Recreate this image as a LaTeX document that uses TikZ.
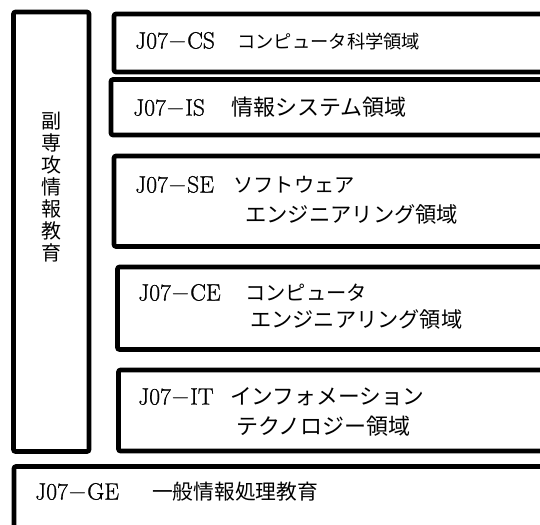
\documentclass[tikz,border=0pt]{standalone}
\usepackage{fontspec}
\newfontfamily\jp{Noto Sans CJK JP}
\newfontfamily\lat[FakeBold=1]{Latin Modern Roman}
\begin{document}
\begin{tikzpicture}[x=1pt,y=-1pt,
  box/.style={draw, line width=4.6pt, rounded corners=2pt, inner sep=0pt, outer sep=0pt, anchor=north west},
  code/.style={anchor=base west, inner sep=0pt, font=\lat\fontsize{23.5}{24}\selectfont},
  jtxt/.style={anchor=base west, inner sep=0pt, font=\jp\fontsize{#1}{21}\selectfont},
  jtxt/.default=21,
]
\useasboundingbox (0,0) rectangle (540,524);
\clip (0,0) rectangle (540,524);
% boxes
\node[box, minimum width=75.5pt, minimum height=439.5pt] (side) at (13.5,12) {};
\node[box, minimum width=460pt, minimum height=58pt] (cs) at (114,14) {};
\node[box, minimum width=460pt, minimum height=55.5pt] (is) at (111,79.5) {};
\node[box, minimum width=460pt, minimum height=90.5pt] (se) at (114,156) {};
\node[box, minimum width=460pt, minimum height=82.5pt] (ce) at (117.5,267) {};
\node[box, minimum width=460pt, minimum height=81pt] (it) at (118.5,370) {};
\node[box, minimum width=560pt, minimum height=90pt] (ge) at (14,466.5) {};
% side label
\node[inner sep=0pt, align=center, font=\jp\fontsize{20}{22}\selectfont] (sidetxt) at (side.center |- 0,187) {副\\専\\攻\\情\\報\\教\\育};
% CS
\node[code] (csc) at (135,48.5) {J07$-$CS};
\node[jtxt=18.3] (cst) at (237,48.5) {コンピュータ科学領域};
% IS
\node[code] (isc) at (133,115.5) {J07$-$IS};
\node[jtxt=22] (ist) at (231,115.5) {情報システム領域};
% SE
\node[code] (sec) at (135,192.5) {J07$-$SE};
\node[jtxt=20.3] (set1) at (233,192.5) {ソフトウェア};
\node[jtxt=21.3] (set2) at (245,222.5) {エンジニアリング領域};
% CE
\node[code] (cec) at (138,300.5) {J07$-$CE};
\node[jtxt=20.3] (cet1) at (245,300.5) {コンピュータ};
\node[jtxt=21.2] (cet2) at (250,327.5) {エンジニアリング領域};
% IT
\node[code] (itc) at (138,404.5) {J07$-$IT};
\node[jtxt=21.7] (itt1) at (230,404.5) {インフォメーション};
\node[jtxt=22] (itt2) at (236,434.5) {テクノロジー領域};
% GE
\node[code] (gec) at (35,499.5) {J07$-$GE};
\node[jtxt=20.75] (get) at (152,499.5) {一般情報処理教育};
\end{tikzpicture}
\end{document}
